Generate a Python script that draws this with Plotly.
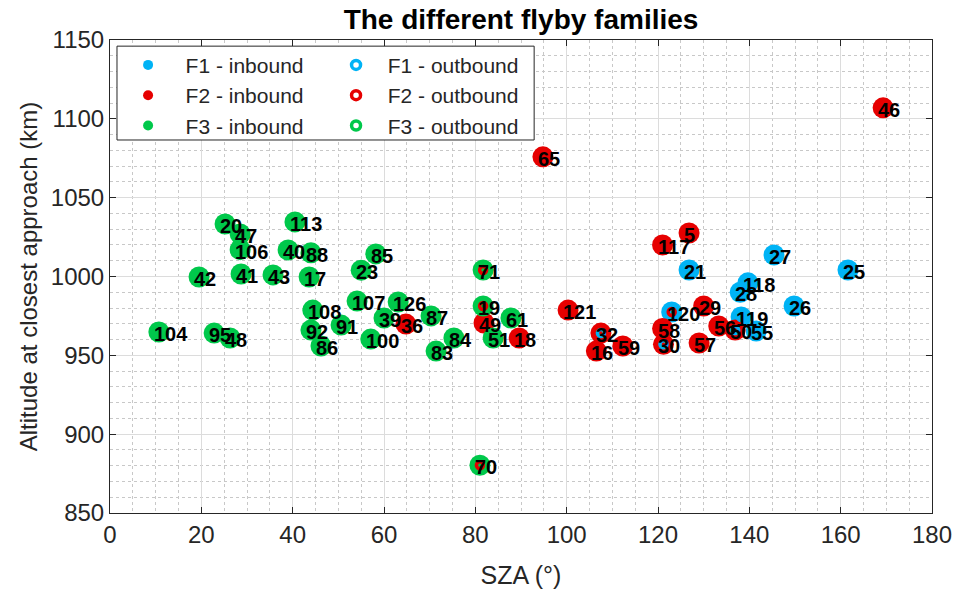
import plotly.graph_objects as go

# Flyby number, solar zenith angle (deg) and altitude at closest approach (km)
flyby = [20, 47, 106, 41, 42, 43, 113, 40, 88, 17, 104, 95, 48, 108, 92, 86, 91,
         100, 39, 126, 87, 107, 23, 85, 83, 84, 71, 19, 51, 61, 70,
         65, 46, 5, 117, 29, 56, 50, 57, 58, 30, 32, 16, 59, 121, 18, 49, 36,
         21, 27, 25, 28, 118, 26, 120, 119, 55]
sza = [25.2, 28.5, 28.5, 28.7, 19.5, 35.7, 40.5, 39.0, 44.0, 43.6, 10.7, 22.8, 26.3,
       44.4, 44.0, 46.2, 50.6, 57.1, 60.0, 63.1, 70.3, 54.1, 55.0, 58.2, 71.4, 75.3,
       81.7, 81.7, 83.9, 87.8, 81.0,
       94.8, 169.3, 126.8, 121.0, 130.0, 133.3, 136.9, 129.0, 121.0, 121.2, 107.5,
       106.5, 112.3, 100.3, 89.6, 81.9, 64.8,
       126.8, 145.4, 161.6, 138.0, 139.7, 149.8, 123.0, 138.2, 141.5]
alt = [1033.3, 1027.0, 1017.0, 1001.6, 999.7, 1001.0, 1034.6, 1016.8, 1015.0, 999.7,
       964.8, 964.1, 961.0, 978.7, 966.0, 955.9, 969.2, 960.3, 973.7, 983.8, 975.0,
       984.4, 1004.0, 1014.3, 952.7, 961.0, 1004.1, 981.3, 961.0, 973.7, 880.3,
       1075.9, 1107.0, 1027.6, 1020.0, 981.3, 968.6, 966.0, 957.8, 967.0, 957.0,
       964.1, 952.7, 955.9, 978.7, 961.0, 970.5, 969.8,
       1004.1, 1013.7, 1004.1, 990.0, 996.0, 981.3, 977.5, 974.3, 965.4]
# Family of the inbound and outbound legs of each flyby
fam_in = ["F3"] * 31 + ["F2"] * 17 + ["F1"] * 9
fam_out = list(fam_in)
for fb, fam in [(71, "F2"), (70, "F2"), (19, "F2"), (32, "F1"), (30, "F1"),
                (50, "F1"), (120, "F2")]:
    fam_out[flyby.index(fb)] = fam

families = ["F1", "F2", "F3"]
colors = {"F1": "#00b3f5", "F2": "#e60000", "F3": "#00c84b"}

x_ticks = list(range(0, 181, 20))
y_ticks = list(range(850, 1151, 50))

FONT = "Liberation Sans"

fig = go.Figure()

# Inbound legs: filled discs
for fam in families:
    idx = [i for i, f in enumerate(fam_in) if f == fam]
    fig.add_trace(go.Scatter(
        x=[sza[i] for i in idx], y=[alt[i] for i in idx], mode="markers",
        marker=dict(symbol="circle", size=21, color=colors[fam], line=dict(width=0)),
        showlegend=False, hoverinfo="skip"))

# Outbound legs: thick rings on top
for fam in families:
    idx = [i for i, f in enumerate(fam_out) if f == fam]
    fig.add_trace(go.Scatter(
        x=[sza[i] for i in idx], y=[alt[i] for i in idx], mode="markers",
        marker=dict(symbol="circle-open", size=7, color=colors[fam],
                    line=dict(width=3.5, color=colors[fam])),
        showlegend=False, hoverinfo="skip"))

# Legend entries
pad = "\u00a0\u00a0\u00a0"
for fam in families:
    fig.add_trace(go.Scatter(
        x=[None], y=[None], mode="markers", name=pad + fam + " - inbound",
        marker=dict(symbol="circle", size=10, color=colors[fam]), legend="legend"))
for fam in families:
    fig.add_trace(go.Scatter(
        x=[None], y=[None], mode="markers", name="\u00a0\u00a0" + fam + " - outbound",
        marker=dict(symbol="circle-open", size=9, color=colors[fam],
                    line=dict(width=3.5, color=colors[fam])), legend="legend2"))

# Flyby numbers next to each point
for fb, xv, yv in zip(flyby, sza, alt):
    fig.add_annotation(x=xv, y=yv, text=str(fb), showarrow=False,
                       xanchor="left", yanchor="middle", xshift=-7, yshift=-2,
                       font=dict(family=FONT, size=20, color="black", weight="bold"))

# Legend frame
fig.add_shape(type="rect", xref="paper", yref="paper",
              x0=0.0085, x1=0.516, y0=0.7886, y1=0.987,
              line=dict(color="#262626", width=1), fillcolor="white", layer="above")

axis_common = dict(
    showline=True, linecolor="#262626", linewidth=1, mirror="allticks",
    ticks="inside", ticklen=6, tickcolor="#262626", tickwidth=1,
    showgrid=True, gridcolor="#dcdcdc", gridwidth=1, zeroline=False,
    automargin=False,
    tickfont=dict(family=FONT, size=24, color="#262626"),
)

fig.update_layout(
    width=956, height=591,
    margin=dict(l=110, r=24, t=40, b=78),
    paper_bgcolor="white", plot_bgcolor="white",
    title=dict(text="The different flyby families", xref="paper", x=0.5,
               xanchor="center", y=0.968, yanchor="middle",
               font=dict(family=FONT, size=28, color="black", weight="bold")),
    xaxis=dict(range=[0, 180], tickvals=x_ticks,
               title=dict(text="SZA (°)", standoff=19,
                          font=dict(family=FONT, size=25, color="#262626")),
               minor=dict(dtick=5, showgrid=True, gridcolor="#c8c8c8",
                          griddash="dot", ticks=""),
               **axis_common),
    yaxis=dict(range=[850, 1150], tickvals=y_ticks,
               title=dict(text="Altitude at closest approach (km)", standoff=6,
                          font=dict(family=FONT, size=24, color="#262626")),
               minor=dict(dtick=10, showgrid=True, gridcolor="#c8c8c8",
                          griddash="dot", ticks=""),
               **axis_common),
    legend=dict(x=0.022, y=0.99, xanchor="left", yanchor="top",
                bgcolor="rgba(0,0,0,0)", borderwidth=0, tracegroupgap=0,
                font=dict(family=FONT, size=21, color="#262626")),
    legend2=dict(x=0.275, y=0.99, xanchor="left", yanchor="top",
                 bgcolor="rgba(0,0,0,0)", borderwidth=0, tracegroupgap=0,
                 font=dict(family=FONT, size=21, color="#262626")),
)

fig.write_html("out.html")
